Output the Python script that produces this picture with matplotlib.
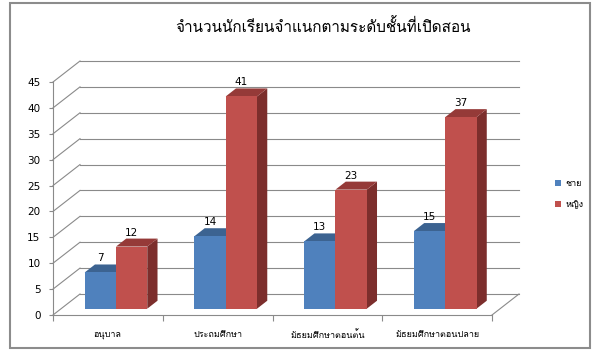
import matplotlib
matplotlib.use("Agg")
import matplotlib.pyplot as plt
from matplotlib.patches import Polygon, Rectangle, Patch
import numpy as np

plt.rcParams['font.family'] = ['DejaVu Sans', 'Loma']

# ข้อมูล
title = 'จำนวนนักเรียนจำแนกตามระดับชั้นที่เปิดสอน'
categories = ['อนุบาล', 'ประถมศึกษา', 'มัธยมศึกษาตอนต้น', 'มัธยมศึกษาตอนปลาย']
male = [7, 14, 13, 15]
female = [12, 41, 23, 37]
series_names = ['ชาย', 'หญิง']
y_ticks = list(range(0, 46, 5))

# สีแบบ Excel 2007
blue = ('#4F81BD', '#3C6391', '#2F5380')     # หน้า, บน, ข้าง
red = ('#C0504D', '#953A38', '#7C2E2C')
grid_c = '#8A8A8A'

fig = plt.figure(figsize=(6.05, 3.62), dpi=100)
W, H = 605, 362
ax = fig.add_axes([53 / W, 1 - 315 / H, 439 / W, 233 / H])
ax.set_xlim(0, 4)
ax.set_ylim(0, 45)

# ความลึก 3 มิติ (หน่วยข้อมูล)
px_x = 439 / 4.0
px_y = 233 / 45.0
DX, DY = 27 / px_x, 21 / px_y
FRONT = 0.3      # ตำแหน่งหน้าแท่ง
BACK = 0.68      # ตำแหน่งหลังแท่ง

# ผนังหลัง + ผนังซ้าย
for v in y_ticks:
    ax.plot([DX, 4 + DX], [v + DY, v + DY], color=grid_c, lw=0.8, clip_on=False, zorder=1)
    ax.plot([0, DX], [v, v + DY], color=grid_c, lw=0.8, clip_on=False, zorder=1)
# ขอบพื้นด้านขวา
ax.plot([4, 4 + DX], [0, DY], color=grid_c, lw=0.8, clip_on=False, zorder=1)


def draw_bar(x0, w, h, cols):
    fx, fy = FRONT * DX, FRONT * DY
    bx, by = BACK * DX, BACK * DY
    front = Rectangle((x0 + fx, fy), w, h, fc=cols[0], ec='none', zorder=3)
    top = Polygon([(x0 + fx, h + fy), (x0 + w + fx, h + fy),
                   (x0 + w + bx, h + by), (x0 + bx, h + by)],
                  closed=True, fc=cols[1], ec='none', zorder=3)
    side = Polygon([(x0 + w + fx, fy), (x0 + w + bx, by),
                    (x0 + w + bx, h + by), (x0 + w + fx, h + fy)],
                   closed=True, fc=cols[2], ec='none', zorder=3)
    for p in (side, top, front):
        p.set_clip_on(False)
        ax.add_patch(p)
    ax.annotate(str(h), (x0 + w / 2 + fx, h + fy), xytext=(0, 6.5),
                textcoords='offset points', ha='center', va='bottom',
                fontsize=7.5, color='black', zorder=5)


bw = 0.285
x = np.arange(len(categories))
for i in x:
    draw_bar(i + 0.5 - bw, bw, male[i], blue)
    draw_bar(i + 0.5, bw, female[i], red)

# แกน
for s in ('top', 'right'):
    ax.spines[s].set_visible(False)
for s in ('left', 'bottom'):
    ax.spines[s].set_color(grid_c)
    ax.spines[s].set_linewidth(0.8)
ax.patch.set_visible(False)
ax.set_yticks(y_ticks)
ax.tick_params(axis='y', length=3, width=0.8, color=grid_c, pad=6, labelsize=7.5)
ax.set_xticks(range(5))
ax.set_xticklabels([])
ax.tick_params(axis='x', which='major', length=4, width=0.8, color=grid_c)
ax.set_xticks(x + 0.5, minor=True)
ax.set_xticklabels(categories, minor=True, fontsize=6.5, family=['Loma', 'DejaVu Sans'])
ax.tick_params(axis='x', which='minor', length=0, pad=11)

# ชื่อแผนภูมิ
fig.text(323 / W, 1 - 27 / H, title, ha='center', va='center', fontsize=11,
         family=['Loma', 'DejaVu Sans'])

# คำอธิบาย
handles = [Patch(fc=blue[0], ec='none'), Patch(fc=red[0], ec='none')]
fig.legend(handles, series_names, loc='center left', bbox_to_anchor=(547 / W, 1 - 194 / H),
           frameon=False, handlelength=0.6, handleheight=0.6, handletextpad=0.5,
           labelspacing=1.3, prop={'family': ['Loma', 'DejaVu Sans'], 'size': 6.5})

# กรอบ
fig.patches.append(Rectangle((10 / W, 1 - 348 / H), 580 / W, 345 / H, transform=fig.transFigure,
                             fill=False, ec='#8C8C8C', lw=1.5))

fig.savefig('out.png', dpi=100)
